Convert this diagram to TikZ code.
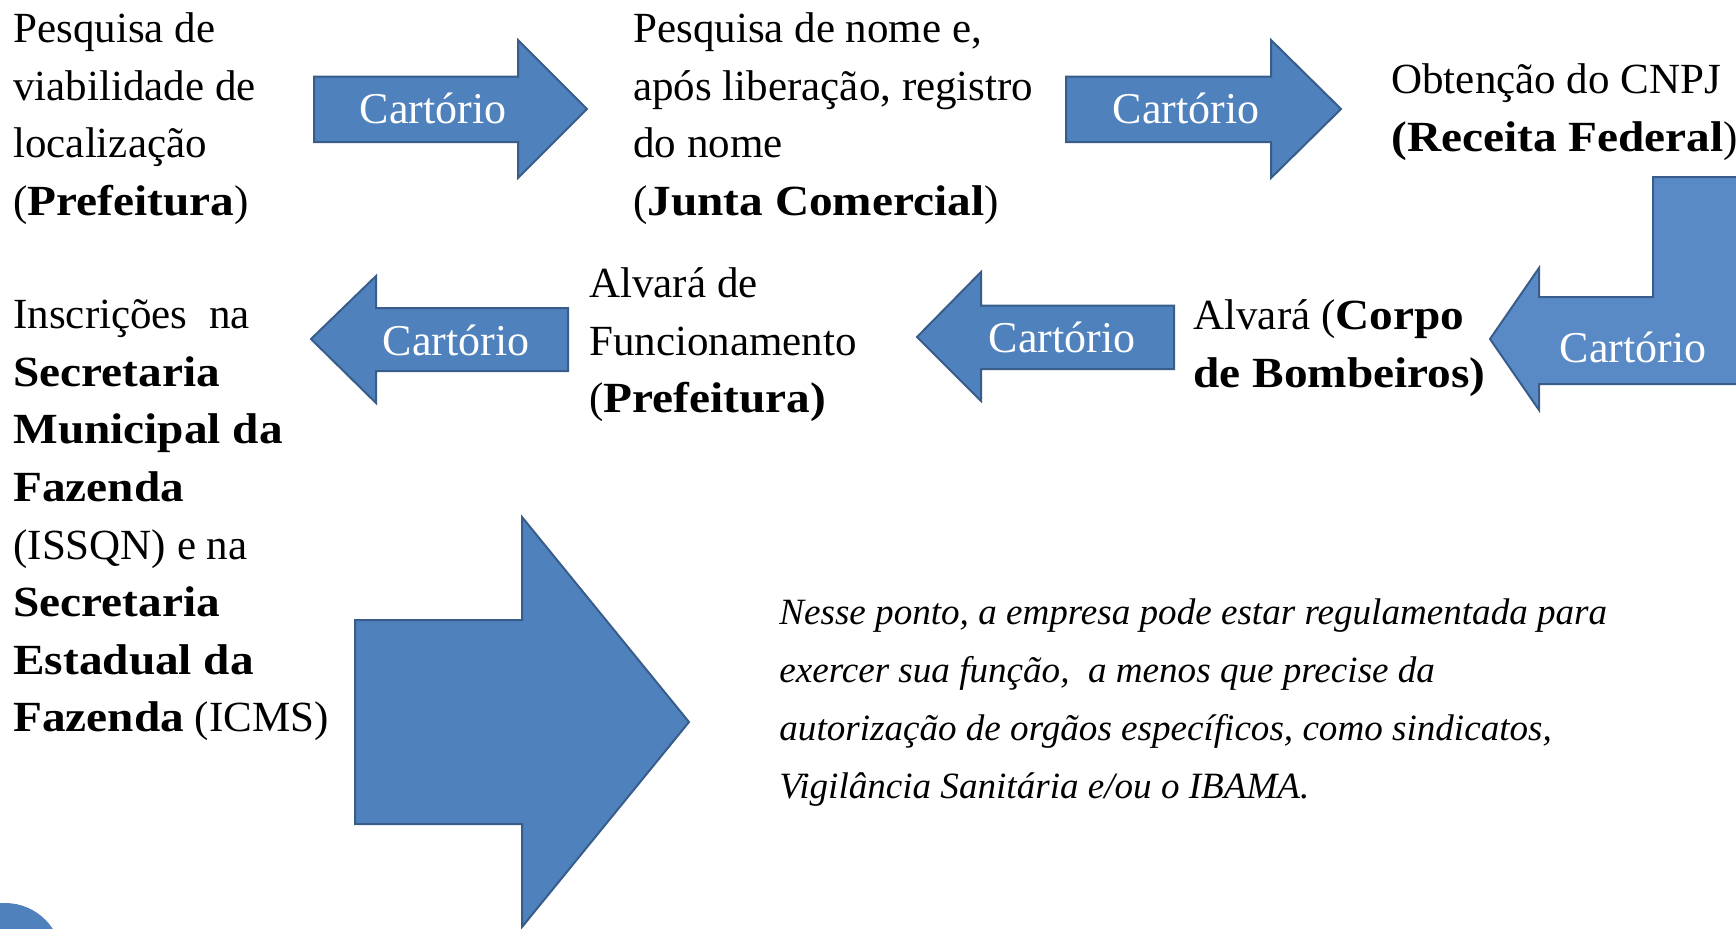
\documentclass[tikz,border=0pt]{standalone}
\usepackage{fontspec}
\setmainfont{Liberation Serif}[BoldFeatures={FakeStretch=1.1}]
\definecolor{arrowfill}{HTML}{4F81BD}
\definecolor{arrowdraw}{HTML}{385D8A}
\definecolor{bentfill}{HTML}{5A8AC6}
\begin{document}
\begin{tikzpicture}[x=0.5pt,y=-0.5pt,
  blockarrow/.style={fill=arrowfill, draw=arrowdraw, line width=1pt, line join=miter},
  txt/.style={anchor=north west, inner sep=0pt, align=left, font=\fontsize{21.5}{28.8}\selectfont},
  itxt/.style={anchor=north west, inner sep=0pt, align=left, font=\fontsize{18.55}{29}\selectfont\itshape},
  lbl/.style={inner sep=0pt, text=white, font=\fontsize{22}{26}\selectfont}]
\useasboundingbox (0,0) rectangle (1736,928);
\begin{scope}
\clip (0,0) rectangle (1736,928);
% block arrows
\draw[blockarrow] (314,76.5) -- (518,76.5) -- (518,40) -- (587,109) -- (518,178) -- (518,142) -- (314,142) -- cycle;
\draw[blockarrow] (1066,76.5) -- (1271,76.5) -- (1271,40) -- (1341,109) -- (1271,178) -- (1271,142) -- (1066,142) -- cycle;
\draw[blockarrow, fill=bentfill] (1653,177) -- (1760,177) -- (1760,384) -- (1539,384) -- (1539,410) -- (1490,339) -- (1539,268) -- (1539,297) -- (1653,297) -- cycle;
\draw[blockarrow] (917,337) -- (981,272) -- (981,305.5) -- (1174,305.5) -- (1174,369) -- (981,369) -- (981,401) -- cycle;
\draw[blockarrow] (311,339) -- (376,276) -- (376,308) -- (568,308) -- (568,371) -- (376,371) -- (376,403) -- cycle;
\draw[blockarrow] (355,620) -- (522,620) -- (522,517) -- (689,722) -- (522,927) -- (522,824) -- (355,824) -- cycle;
\fill[arrowfill] (5,960) circle (57);
\end{scope}
% labels
\node[lbl] (c1) at (433,108) {Cartório};
\node[lbl] (c2) at (1186,108) {Cartório};
\node[lbl] (c3) at (1062,337) {Cartório};
\node[lbl] (c4) at (456,340) {Cartório};
\node[lbl] (c5) at (1633,347) {Cartório};
% texts
\node[txt] (t1) at (13,2) {\strut Pesquisa de\\viabilidade de\\localização\\(\textbf{Prefeitura})};
\node[txt] (t2) at (633,2) {\strut Pesquisa de nome e,\\após liberação, registro\\do nome\\(\textbf{Junta Comercial})};
\node[txt] (t3) at (1391,53) {\strut Obtenção do CNPJ\\\textbf{(Receita Federal})};
\node[txt] (t4) at (1193,289) {\strut Alvará (\textbf{Corpo}\\\textbf{de Bombeiros)}};
\node[txt] (t5) at (589,257) {\strut Alvará de\\Funcionamento\\(\textbf{Prefeitura)}};
\node[txt] (t6) at (13,288) {\strut Inscrições\ \ na\\\textbf{Secretaria}\\\textbf{Municipal da}\\\textbf{Fazenda}\\(ISSQN) e na\\\textbf{Secretaria}\\\textbf{Estadual da}\\\textbf{Fazenda} (ICMS)};
\node[itxt] (t7) at (779,583.5) {\strut Nesse ponto, a empresa pode estar regulamentada para\\exercer sua função,\ \ a menos que precise da\\autorização de orgãos específicos, como sindicatos,\\Vigilância Sanitária e/ou o IBAMA.};
\end{tikzpicture}
\end{document}
